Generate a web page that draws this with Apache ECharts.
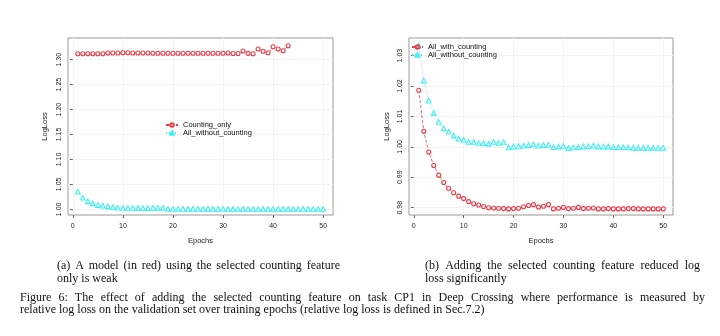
<!DOCTYPE html>
<html><head><meta charset="utf-8">
<script src="https://cdn.jsdelivr.net/npm/echarts@6/dist/echarts.min.js"></script>
<style>html,body{margin:0;padding:0;background:#fff}#c{width:720px;height:336px}</style>
</head><body><div id="c"></div>
<script>
// ---- data ----
const epochs = [1,2,3,4,5,6,7,8,9,10,11,12,13,14,15,16,17,18,19,20,21,22,23,24,25,26,27,28,29,30,31,32,33,34,35,36,37,38,39,40,41,42,43,44,45,46,47,48,49,50];
const xTicks = [0,10,20,30,40,50];
const leftYTicks = [1.00,1.05,1.10,1.15,1.20,1.25,1.30];
const rightYTicks = [0.98,0.99,1.00,1.01,1.02,1.03];

// (a) left panel
const countingOnly = [1.312,1.312,1.312,1.312,1.312,1.312,1.3135,1.3135,1.3135,1.3138,1.3138,1.3135,1.3135,1.3135,1.3135,1.313,1.313,1.313,1.313,1.3128,1.3128,1.3128,1.3128,1.3128,1.3128,1.3128,1.3128,1.3128,1.3128,1.3128,1.3135,1.3125,1.3125,1.3174,1.3127,1.312,1.3215,1.3168,1.314,1.326,1.3215,1.318,1.328];
const allWithoutCountingA = [1.0353,1.0233,1.016,1.012,1.0086,1.0072,1.006,1.0046,1.0032,1.0026,1.0026,1.0026,1.0024,1.0024,1.0024,1.003,1.003,1.003,1.0008,1.0008,1.0008,1.0008,1.0008,1.001,1.0008,1.0008,1.001,1.0008,1.0008,1.0008,1.0006,1.0006,1.0006,1.0006,1.0006,1.0006,1.0006,1.0006,1.0006,1.0006,1.0006,1.0006,1.0006,1.0006,1.0006,1.0006,1.0006,1.0006,1.0006,1.0006];

// (b) right panel
const allWithCounting = [1.0186,1.0051,0.9983,0.9939,0.9907,0.9883,0.9864,0.9849,0.9838,0.983,0.982,0.9813,0.9809,0.9804,0.98,0.9799,0.9798,0.9797,0.9796,0.9797,0.9798,0.9803,0.9807,0.981,0.9802,0.9805,0.981,0.9796,0.9798,0.9801,0.9797,0.9798,0.9801,0.9797,0.9798,0.9799,0.9796,0.9796,0.9797,0.9796,0.9796,0.9796,0.9797,0.9797,0.9796,0.9796,0.9796,0.9796,0.9796,0.9796];
const allWithoutCountingB = [1.0333,1.0218,1.0152,1.0111,1.0082,1.0061,1.005,1.0037,1.0027,1.0023,1.0016,1.0016,1.0013,1.0012,1.001,1.0016,1.0013,1.0016,0.9998,1.0001,1.0003,1.0004,1.0006,1.0008,1.0004,1.0006,1.0007,0.9999,1.0001,1.0003,0.9996,0.9998,0.9999,1.0001,1.0002,1.0004,1.0001,1.0001,1.0001,0.9999,0.9999,0.9999,0.9998,0.9997,0.9997,0.9997,0.9997,0.9997,0.9997,0.9997];

const capA1 = '(a) A model (in red) using the selected counting feature';
const capA2 = 'only is weak';
const capB1 = '(b) Adding the selected counting feature reduced log';
const capB2 = 'loss significantly';
const fig1 = 'Figure 6: The effect of adding the selected counting feature on task CP1 in Deep Crossing where performance is measured by';
const fig2 = 'relative log loss on the validation set over training epochs (relative log loss is defined in Sec.7.2)';

// ---- styling ----
const RED = '#ef3a48';
const CYAN = '#40f0f0';
const SANS = 'Liberation Sans';
const SERIF_FONT = '12px "Liberation Serif"';

function pairs(vals) { return vals.map((v, i) => [epochs[i], v]); }

function xAxisCfg(gi) {
  return {
    type: 'value', gridIndex: gi, min: -0.96, max: 51.96,
    axisLine: { show: false },
    axisTick: { show: true, customValues: xTicks, length: 3, lineStyle: { color: '#666' } },
    axisLabel: { customValues: xTicks, fontSize: 7, color: '#222', margin: 7.5, fontFamily: SANS },
    splitLine: { show: true, lineStyle: { color: '#f3f3f3', width: 1 } },
    name: 'Epochs', nameLocation: 'middle', nameGap: 21.5,
    nameTextStyle: { fontSize: 7.5, color: '#222', fontFamily: SANS }
  };
}
function yAxisCfg(gi, min, max, ticks, gap) {
  return {
    type: 'value', gridIndex: gi, min: min, max: max,
    axisLine: { show: false },
    axisTick: { show: true, customValues: ticks, length: 3, lineStyle: { color: '#666' } },
    axisLabel: { customValues: ticks, fontSize: 7, color: '#222', margin: 5, rotate: 90,
      fontFamily: SANS, formatter: v => v.toFixed(2) },
    splitLine: { show: true, lineStyle: { color: '#f3f3f3', width: 1 } },
    name: 'LogLoss', nameLocation: 'middle', nameGap: gap,
    nameTextStyle: { fontSize: 7.5, color: '#222', fontFamily: SANS }
  };
}
function redSeries(name, gi, vals) {
  return { type: 'line', name: name, xAxisIndex: gi, yAxisIndex: gi, data: pairs(vals),
    symbol: 'circle', symbolSize: 4, color: RED,
    itemStyle: { color: '#fff', borderColor: RED, borderWidth: 1.1 },
    lineStyle: { color: RED, width: 0.8, type: [3, 2] }, z: 3 };
}
function cyanSeries(name, gi, vals) {
  return { type: 'line', name: name, xAxisIndex: gi, yAxisIndex: gi, data: pairs(vals),
    symbol: 'triangle', symbolSize: 4.6, color: CYAN,
    itemStyle: { color: '#fff', borderColor: CYAN, borderWidth: 1.1 },
    lineStyle: { color: CYAN, width: 0.8, type: [1, 2] }, z: 2 };
}

// ---- caption text (justified lines) ----
const mctx = document.createElement('canvas').getContext('2d');
function captionLine(text, x0, x1, y, justify) {
  mctx.font = SERIF_FONT;
  const words = text.split(' ');
  const widths = words.map(w => mctx.measureText(w).width);
  const total = widths.reduce((a, b) => a + b, 0);
  const sp = mctx.measureText(' ').width;
  let gap = justify ? (x1 - x0 - total) / (words.length - 1) : sp;
  if (gap < sp * 0.7) gap = sp * 0.7;
  let x = x0;
  return words.map((w, i) => {
    const el = { type: 'text', x: x, y: y, silent: true,
      style: { text: w, font: SERIF_FONT, fill: '#111', textVerticalAlign: 'middle' } };
    x += widths[i] + gap;
    return el;
  });
}
const graphics = [].concat(
  captionLine(capA1, 57, 340, 266, true),
  captionLine(capA2, 57, 340, 278.5, false),
  captionLine(capB1, 425, 700, 266, true),
  captionLine(capB2, 425, 700, 278.5, false),
  captionLine(fig1, 20, 705, 297.5, true),
  captionLine(fig2, 20, 705, 310, false)
);

const chart = echarts.init(document.getElementById('c'), null, { renderer: 'canvas' });
chart.setOption({
  animation: false,
  backgroundColor: '#fff',
  grid: [
    { left: 68, top: 38, width: 265, height: 177, show: true, borderColor: '#999', borderWidth: 1, backgroundColor: 'transparent' },
    { left: 409, top: 38, width: 264, height: 177, show: true, borderColor: '#999', borderWidth: 1, backgroundColor: 'transparent' }
  ],
  xAxis: [xAxisCfg(0), xAxisCfg(1)],
  yAxis: [yAxisCfg(0, 0.9886, 1.3435, leftYTicks, 19), yAxisCfg(1, 0.9776, 1.0358, rightYTicks, 18.5)],
  legend: [
    { data: ['Counting_only', 'All_without_counting'], orient: 'vertical', left: 165, top: 121,
      itemWidth: 12, itemHeight: 4.5, itemGap: 0, padding: 0, selectedMode: false,
      textStyle: { fontSize: 7.5, color: '#111', fontFamily: SANS, lineHeight: 6.5 } },
    { data: ['All_with_counting', 'All_without_counting'], orient: 'vertical', left: 411, top: 43,
      itemWidth: 11, itemHeight: 4.5, itemGap: 0, padding: 0, selectedMode: false,
      textStyle: { fontSize: 7.5, color: '#111', fontFamily: SANS, lineHeight: 7 } }
  ],
  series: [
    redSeries('Counting_only', 0, countingOnly),
    cyanSeries('All_without_counting', 0, allWithoutCountingA),
    redSeries('All_with_counting', 1, allWithCounting),
    cyanSeries('All_without_counting', 1, allWithoutCountingB)
  ],
  graphic: graphics
});
</script></body></html>
